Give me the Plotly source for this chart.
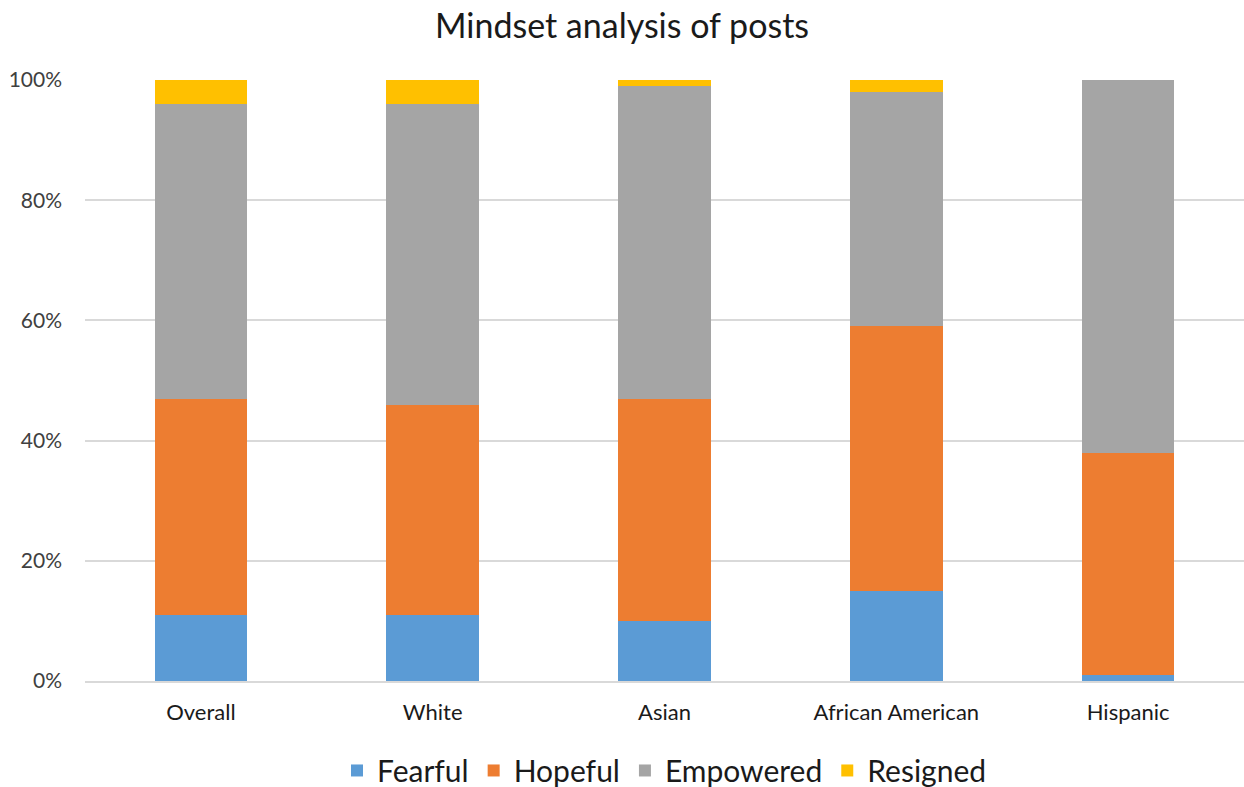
import plotly.graph_objects as go

categories = ["Overall", "White", "Asian", "African American", "Hispanic"]
fearful = [11, 11, 10, 15, 1]
hopeful = [36, 35, 37, 44, 37]
empowered = [49, 50, 52, 39, 62]
resigned = [4, 4, 1, 2, 0]

series = [
    ("Fearful", fearful, "#5b9bd5"),
    ("Hopeful", hopeful, "#ed7d31"),
    ("Empowered", empowered, "#a5a5a5"),
    ("Resigned", resigned, "#ffc000"),
]

fig = go.Figure()
for name, vals, color in series:
    fig.add_trace(go.Bar(
        name=name, x=categories, y=vals,
        marker=dict(color=color, line=dict(width=0)),
        width=0.4,
    ))

fig.update_layout(
    barmode="stack",
    width=1244, height=787,
    paper_bgcolor="white", plot_bgcolor="white",
    font=dict(family="Lato, Open Sans, sans-serif", color="#404040"),
    title=dict(text="Mindset analysis of posts", x=0.5, xanchor="center",
               y=0.967, yanchor="middle",
               font=dict(size=34, color="#1a1a1a")),
    margin=dict(l=85, r=0, t=80, b=106, autoexpand=False),
    legend=dict(orientation="h", x=0.5, xanchor="center",
                yref="container", y=0.021, yanchor="middle",
                font=dict(size=30, color="#1a1a1a"), traceorder="normal",
                itemwidth=30),
    bargap=0.6,
)
fig.update_xaxes(showgrid=False, showline=True, linecolor="#d9d9d9", linewidth=1.5,
                 tickfont=dict(size=22, color="#1a1a1a"), ticks="",
                 ticklabelstandoff=11)
fig.update_yaxes(range=[0, 100], dtick=20, ticksuffix="%", showgrid=True,
                 gridcolor="#d9d9d9", gridwidth=1.5, zeroline=False,
                 tickfont=dict(size=21, color="#404040"), ticks="", ticklen=0,
                 ticklabelstandoff=22)

fig.write_html("out.html")
